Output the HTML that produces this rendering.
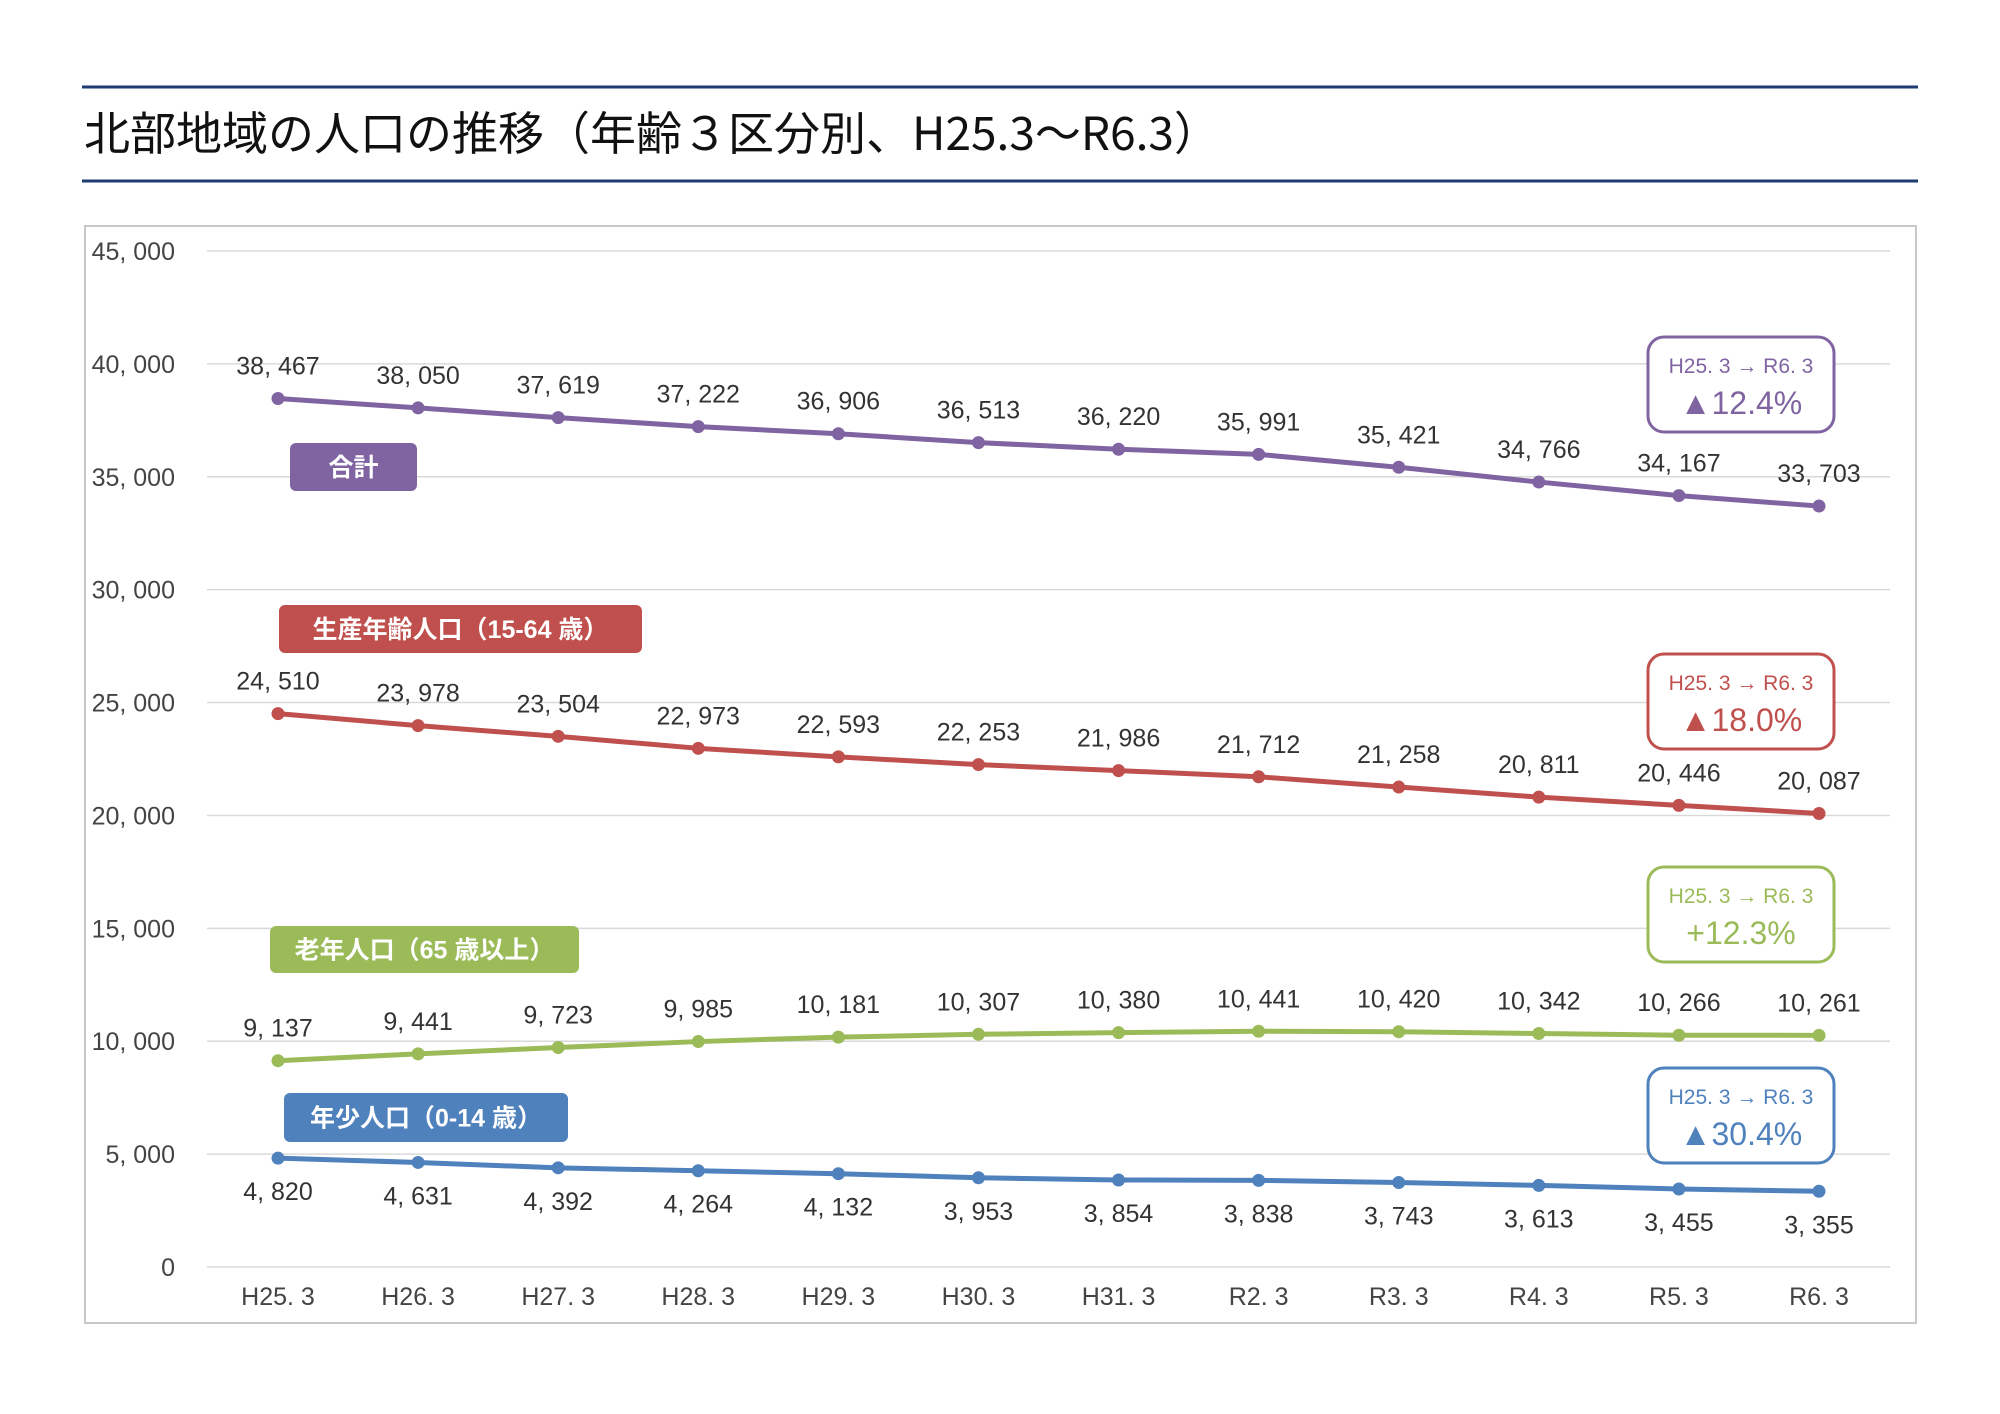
<!DOCTYPE html>
<html><head><meta charset="utf-8"><style>
body{margin:0;background:#fff}
svg{display:block;font-family:"Liberation Sans","Noto Sans CJK JP",sans-serif}
</style></head><body>
<svg id="chart" width="2000" height="1414" viewBox="0 0 2000 1414">
<rect x="0" y="0" width="2000" height="1414" fill="#fff"/>
<line x1="82" y1="87" x2="1918" y2="87" stroke="#1f3b73" stroke-width="3"/>
<line x1="82" y1="181" x2="1918" y2="181" stroke="#1f3b73" stroke-width="3"/>
<text x="84" y="150" font-size="46" fill="#111" font-family="'Noto Sans CJK JP',sans-serif">北部地域の人口の推移（年齢３区分別、H25.3～R6.3）</text>
<rect x="85" y="226" width="1831" height="1097" fill="none" stroke="#c8c8c8" stroke-width="2"/>
<g id="grid"></g><g id="series"></g><g id="labels"></g>
</svg>
<script>
const categories=["H25.3","H26.3","H27.3","H28.3","H29.3","H30.3","H31.3","R2.3","R3.3","R4.3","R5.3","R6.3"];
const yTicks=[0,5000,10000,15000,20000,25000,30000,35000,40000,45000];
const totalValues=[38467,38050,37619,37222,36906,36513,36220,35991,35421,34766,34167,33703];
const workingValues=[24510,23978,23504,22973,22593,22253,21986,21712,21258,20811,20446,20087];
const elderlyValues=[9137,9441,9723,9985,10181,10307,10380,10441,10420,10342,10266,10261];
const youthValues=[4820,4631,4392,4264,4132,3953,3854,3838,3743,3613,3455,3355];
const seriesNames=["合計","生産年齢人口（15-64 歳）","老年人口（65 歳以上）","年少人口（0-14 歳）"];
const changeLabels=["▲12.4%","▲18.0%","+12.3%","▲30.4%"];
const NS="http://www.w3.org/2000/svg";
const x=i=>278+i*(1819-278)/(categories.length-1);
const y=v=>1267-v*(1267-251)/45000;
const fmt=v=>v.toLocaleString("en-US").replace(",",", ");
function mk(tag,attrs,parent,text){const e=document.createElementNS(NS,tag);for(const k in attrs)e.setAttribute(k,attrs[k]);if(text!==undefined)e.textContent=text;parent.appendChild(e);return e;}
const grid=document.getElementById("grid"),ser=document.getElementById("series"),lab=document.getElementById("labels");
yTicks.forEach(t=>{
 const l=mk("line",{x1:207,x2:1890,y1:y(t),y2:y(t),stroke:"#d9d9d9","stroke-width":1.5},grid);
 
 
 const tx=mk("text",{x:175,y:y(t)+9,"text-anchor":"end","font-size":25,fill:"#444"},grid,t===0?"0":fmt(t));
 
 
});
categories.forEach((c,i)=>{
 const tx=mk("text",{x:x(i),y:1305,"text-anchor":"middle","font-size":25,fill:"#444"},grid,c.replace(".",". "));
 
 
});
const defs=[
 {vals:totalValues,color:"#8064a2",below:false,leg:[290,443,127,48],box:[1648,337]},
 {vals:workingValues,color:"#c0504d",below:false,leg:[279,605,363,48],box:[1648,654]},
 {vals:elderlyValues,color:"#9bbb59",below:false,leg:[270,926,309,47],box:[1648,867]},
 {vals:youthValues,color:"#4f81bd",below:true,leg:[284,1093,284,49],box:[1648,1068]}
];
defs.forEach((d,si)=>{
 const pl=mk("polyline",{points:d.vals.map((v,i)=>x(i)+","+y(v)).join(" "),fill:"none",stroke:d.color,"stroke-width":5,"stroke-linejoin":"round"},ser);
 
 
 d.vals.forEach((v,i)=>{
  const c=mk("circle",{cx:x(i),cy:y(v),r:6.5,fill:d.color},ser);
  
  
  const t=mk("text",{x:x(i),y:y(v)+(d.below?42:-24),"text-anchor":"middle","font-size":25,fill:"#333"},lab,fmt(v));
  
  
 });
 const [lx,ly,lw,lh]=d.leg;
 const g=mk("g",{},lab);
 
 
 mk("rect",{x:lx,y:ly,width:lw,height:lh,rx:6,fill:d.color},g);
 mk("text",{x:lx+lw/2,y:ly+lh/2+9,"text-anchor":"middle","font-size":25,"font-weight":"bold",fill:"#fff"},g,seriesNames[si]);
 const [bx,by]=d.box;
 const b=mk("g",{},lab);
 
 
 mk("rect",{x:bx,y:by,width:186,height:95,rx:16,fill:"#fff",stroke:d.color,"stroke-width":3},b);
 mk("text",{x:bx+93,y:by+36,"text-anchor":"middle","font-size":21,fill:d.color},b,"H25. 3 → R6. 3");
 mk("text",{x:bx+93,y:by+77,"text-anchor":"middle","font-size":32,fill:d.color},b,changeLabels[si]);
});
</script>
</body></html>
